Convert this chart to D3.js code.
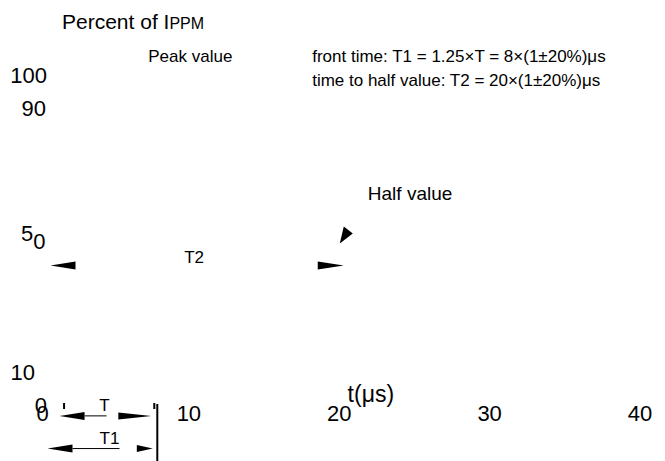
<!DOCTYPE html>
<html><head><meta charset="utf-8">
<script src="https://cdn.jsdelivr.net/npm/d3@7"></script>
<style>
body{margin:0;background:#fff}
svg text{font-family:"Liberation Sans",Arial,Helvetica,sans-serif;fill:#000}
</style>
</head><body>
<svg id="chart" width="665" height="461"></svg>
<script>
// ---- data ----
const xTicks = [0, 10, 20, 30, 40];
const yTicks = [100, 90, 50, 10, 0];
const yLabels = ["100", "90", "50", "10", "0"];
const xAxisTitle = "t(μs)";
const yAxisTitle = "Percent of I";
const yAxisTitleSub = "PPM";
const noteTexts = ["Peak value", "front time: T1 = 1.25×T = 8×(1±20%)μs", "time to half value: T2 = 20×(1±20%)μs", "Half value"];
const noteX = [7.3, 18.2, 18.2, 21.9];
const noteY = [104, 104, 96.7, 62];
// arrow intervals [start, end, level]
const intervalNames = ["T2", "T", "T1"];
const intervalStart = [0.8, 1.4, 0.6];
const intervalEnd = [20.3, 7.5, 7.6];
const intervalLevel = [42.3, -3.3, -13.2];
const markerTicks = [1.7, 7.7];
const frontEnd = 7.9;
const halfPoint = [20.9, 52];

// ---- scales ----
const svg = d3.select("#chart");
const x = d3.scaleLinear().domain([0, 40]).range([38.5, 640]);
const y = d3.scaleLinear().domain([0, 100]).range([405, 75]);

// y labels
const yDx = [0, -1, 0, -12, 0];
yTicks.forEach((v, i) => {
  const lab = yLabels[i];
  if (lab === "50") {
    const t = svg.append("text").attr("x", 21).attr("y", y(v) + 1).style("font-size", "22px");
    t.append("tspan").text(lab[0]);
    t.append("tspan").attr("dy", 8).text(lab[1]);
  } else {
    svg.append("text").attr("x", 47 + yDx[i]).attr("y", y(v) + 8)
      .attr("text-anchor", "end").style("font-size", "22px").text(lab);
  }
});

// x tick labels
const xDx = [4, 0, 0, 0, 0];
xTicks.forEach((v, i) => {
  svg.append("text").attr("x", x(v) + xDx[i]).attr("y", 421)
    .attr("text-anchor", "middle").style("font-size", "22px").text(v);
});

// axis titles
const yt = svg.append("text").attr("x", 62).attr("y", 29).style("font-size", "21px");
yt.append("tspan").text(yAxisTitle);
yt.append("tspan").style("font-size", "16px").text(yAxisTitleSub);
svg.append("text").attr("x", x(22.1)).attr("y", 402).attr("text-anchor", "middle")
  .style("font-size", "23px").text(xAxisTitle);

// notes
const noteSize = [17, 17, 17, 19];
noteTexts.forEach((t, i) => {
  svg.append("text").attr("x", x(noteX[i])).attr("y", y(noteY[i]))
    .style("font-size", noteSize[i] + "px").text(t);
});

// small tick marks
markerTicks.forEach(v => {
  svg.append("line").attr("x1", x(v)).attr("x2", x(v)).attr("y1", y(0) - 2).attr("y2", y(0) + 4)
    .attr("stroke", "#000").attr("stroke-width", 2);
});
// vertical line at front end
svg.append("line").attr("x1", x(frontEnd)).attr("x2", x(frontEnd)).attr("y1", y(0) - 1).attr("y2", 461)
  .attr("stroke", "#000").attr("stroke-width", 2);

// arrowheads
function headLeft(tx, ty, len, h) {
  return `M${tx},${ty} L${tx + len},${ty - h / 2} L${tx + len},${ty + h / 2} Z`;
}
function headRight(tx, ty, len, h) {
  return `M${tx},${ty} L${tx - len},${ty - h / 2} L${tx - len},${ty + h / 2} Z`;
}
intervalNames.forEach((n, i) => {
  const x0 = x(intervalStart[i]), x1 = x(intervalEnd[i]), yy = y(intervalLevel[i]);
  const len = 25;
  svg.append("path").attr("d", headLeft(x0, yy, len, 8)).attr("fill", "#000");
  const rlen = n === "T1" ? 16 : (n === "T" ? 33 : 26);
  svg.append("path").attr("d", headRight(x1, yy, rlen, n === "T2" ? 8 : 7)).attr("fill", "#000");
  if (n === "T") {
    svg.append("line").attr("x1", x0 + len).attr("x2", x0 + 47).attr("y1", yy).attr("y2", yy).attr("stroke", "#000");
    svg.append("text").attr("x", x0 + 45).attr("y", yy - 5).attr("text-anchor", "middle").style("font-size", "17px").text(n);
  } else if (n === "T1") {
    svg.append("line").attr("x1", x0 + len).attr("x2", x0 + 72).attr("y1", yy).attr("y2", yy).attr("stroke", "#000");
    svg.append("text").attr("x", x0 + 62).attr("y", yy - 5).attr("text-anchor", "middle").style("font-size", "17px").text(n);
  } else {
    svg.append("text").attr("x", (x0 + x1) / 2 - 3).attr("y", yy - 2).attr("text-anchor", "middle").style("font-size", "17px").text(n);
  }
});

// half value arrowhead
const hx = x(halfPoint[0]), hy = y(halfPoint[1]);
svg.append("path").attr("d", `M${hx},${hy} L${hx - 9},${hy - 7} L${hx - 13},${hy + 10} Z`).attr("fill", "#000");
</script>
</body></html>
